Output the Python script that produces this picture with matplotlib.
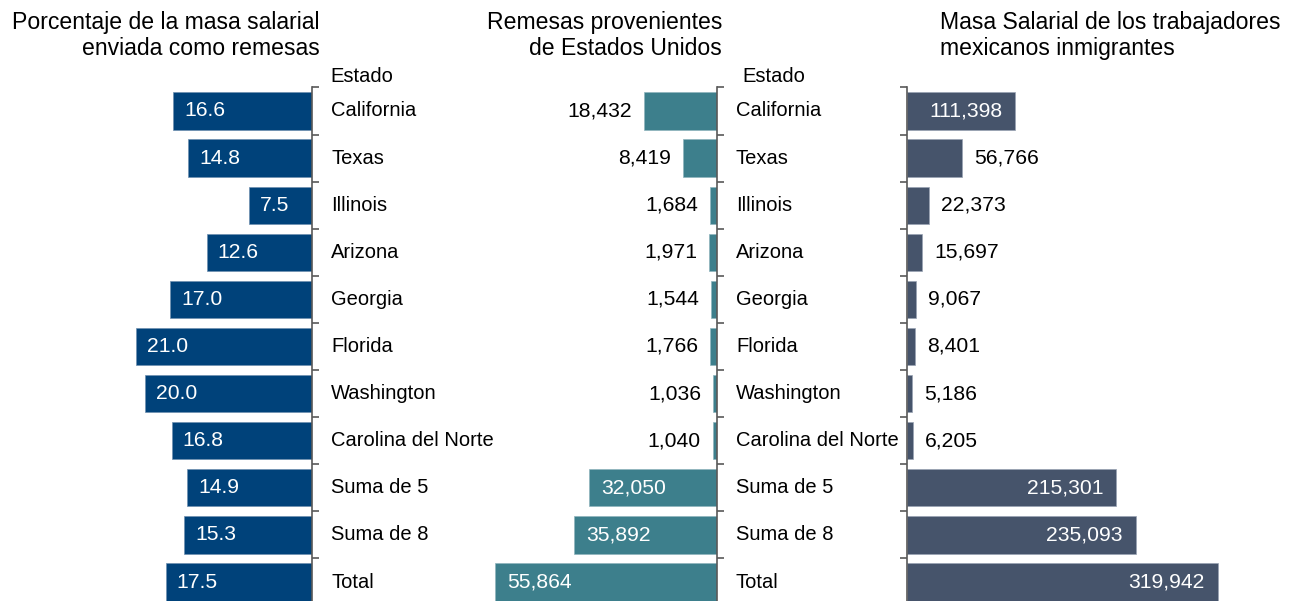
import matplotlib
matplotlib.use("Agg")
import matplotlib.pyplot as plt

plt.rcParams['font.family'] = ['Liberation Sans', 'DejaVu Sans']

categories = ["California", "Texas", "Illinois", "Arizona", "Georgia", "Florida",
              "Washington", "Carolina del Norte", "Suma de 5", "Suma de 8", "Total"]
pct_sent = [16.6, 14.8, 7.5, 12.6, 17.0, 21.0, 20.0, 16.8, 14.9, 15.3, 17.5]
remesas = [18432, 8419, 1684, 1971, 1544, 1766, 1036, 1040, 32050, 35892, 55864]
masa = [111398, 56766, 22373, 15697, 9067, 8401, 5186, 6205, 215301, 235093, 319942]

titles = ["Porcentaje de la masa salarial\nenviada como remesas",
          "Remesas provenientes\nde Estados Unidos",
          "Masa Salarial de los trabajadores\nmexicanos inmigrantes"]

C1, C2, C3 = "#00427A", "#3D7F8C", "#46546B"
SPINE = "#595959"

W, H = 1289, 601
fig = plt.figure(figsize=(W / 100, H / 100), dpi=100)

# pixel geometry
y_top = 87.45
step = 47.1
n = len(categories)
y_bot = y_top + step * n


def add_ax(x0, x1):
    return fig.add_axes([x0 / W, (H - y_bot) / H, (x1 - x0) / W, (y_bot - y_top) / H])


FS = 14.5   # category labels
VFS = 15.2  # value labels
bh = 0.79

# ---------- Panel 1 ----------
ax1 = add_ax(100, 312)
ax1.barh(range(n), pct_sent, height=bh, color=C1, edgecolor="#6f8fb0", linewidth=0.5)
ax1.set_xlim(212 / 8.36, 0)
ax1.set_ylim(n - 0.5, -0.5)
for i, v in enumerate(pct_sent):
    ax1.annotate(f"{v:.1f}", xy=(v, i), xytext=(11, 0), textcoords="offset pixels",
                 ha="left", va="center", color="white", fontsize=VFS)
    ax1.annotate(categories[i], xy=(0, i), xytext=(19, 0), textcoords="offset pixels",
                 ha="left", va="center", color="black", fontsize=FS, annotation_clip=False)

# ---------- Panel 2 ----------
ax2 = add_ax(480, 717)
ax2.barh(range(n), remesas, height=bh, color=C2, edgecolor="#8fb5bd", linewidth=0.5)
ax2.set_xlim(237 / 0.00398, 0)
ax2.set_ylim(n - 0.5, -0.5)
for i, v in enumerate(remesas):
    if v > 20000:
        ax2.annotate(f"{v:,}", xy=(v, i), xytext=(12, 0), textcoords="offset pixels",
                     ha="left", va="center", color="white", fontsize=VFS)
    else:
        ax2.annotate(f"{v:,}", xy=(v, i), xytext=(-12, 0), textcoords="offset pixels",
                     ha="right", va="center", color="black", fontsize=VFS)
    ax2.annotate(categories[i], xy=(0, i), xytext=(19, 0), textcoords="offset pixels",
                 ha="left", va="center", color="black", fontsize=FS, annotation_clip=False)

# ---------- Panel 3 ----------
ax3 = add_ax(907, 1289)
ax3.barh(range(n), masa, height=bh, color=C3, edgecolor="#98a2b3", linewidth=0.5)
ax3.set_xlim(0, 382 / 0.000972)
ax3.set_ylim(n - 0.5, -0.5)
for i, v in enumerate(masa):
    if v > 100000:
        ax3.annotate(f"{v:,}", xy=(v, i), xytext=(-13, 0), textcoords="offset pixels",
                     ha="right", va="center", color="white", fontsize=VFS)
    else:
        ax3.annotate(f"{v:,}", xy=(v, i), xytext=(12, 0), textcoords="offset pixels",
                     ha="left", va="center", color="black", fontsize=VFS)

for ax, side in ((ax1, "right"), (ax2, "right"), (ax3, "left")):
    for s in ("top", "bottom", "left", "right"):
        ax.spines[s].set_visible(s == side)
    ax.spines[side].set_color(SPINE)
    ax.spines[side].set_linewidth(1.2)
    ax.set_xticks([])
    ax.set_yticks([i - 0.5 for i in range(n + 1)])
    ax.set_yticklabels([])
    ax.tick_params(axis="y", direction="out", length=5, width=1.2, color=SPINE,
                   left=(side == "left"), right=(side == "right"))
    ax.patch.set_visible(False)

# "Estado" headers
fig.text(330 / W, 1 - 76 / H, "Estado", ha="left", va="center", fontsize=FS)
fig.text(742 / W, 1 - 76 / H, "Estado", ha="left", va="center", fontsize=FS)

# Titles
TFS = 16.6
fig.text(320 / W, 1 - 35.5 / H, titles[0], ha="right", va="center", multialignment="right",
         fontsize=TFS, linespacing=1.2)
fig.text(722 / W, 1 - 35.5 / H, titles[1], ha="right", va="center", multialignment="right",
         fontsize=TFS, linespacing=1.2)
fig.text(940 / W, 1 - 35.5 / H, titles[2], ha="left", va="center", multialignment="left",
         fontsize=TFS, linespacing=1.2)

fig.savefig("out.png", dpi=100)
